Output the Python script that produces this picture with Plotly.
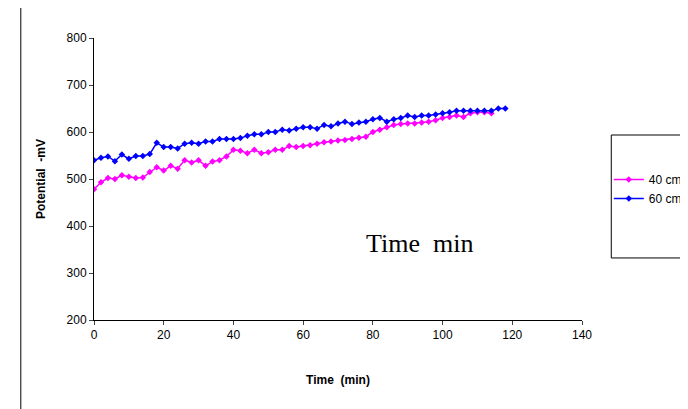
import plotly.graph_objects as go

t40 = list(range(0, 116, 2))
v40 = [478, 493, 502, 500, 508, 505, 502, 503, 515, 525, 518, 528, 522, 540, 535, 540,
       528, 537, 540, 548, 562, 560, 555, 562, 555, 557, 562, 562, 570, 568, 570, 572,
       575, 578, 580, 582, 583, 585, 588, 590, 600, 605, 610, 615, 617, 618, 618, 620,
       622, 625, 630, 632, 635, 632, 640, 642, 642, 640]
t60 = list(range(0, 120, 2))
v60 = [540, 545, 548, 538, 552, 543, 549, 549, 553, 577, 568, 568, 565, 575, 577, 575,
       580, 580, 585, 585, 585, 587, 592, 595, 595, 600, 600, 605, 603, 607, 610, 610,
       607, 615, 612, 618, 622, 617, 620, 622, 627, 630, 622, 627, 630, 635, 632, 635,
       635, 637, 640, 642, 645, 645, 645, 645, 645, 645, 650, 650]

fig = go.Figure()
fig.add_trace(go.Scatter(x=t40, y=v40, name="40 cm", mode="lines+markers",
                         line=dict(color="#ff00ff", width=1.5),
                         marker=dict(symbol="diamond", size=5, color="#ff00ff")))
fig.add_trace(go.Scatter(x=t60, y=v60, name="60 cm", mode="lines+markers",
                         line=dict(color="#0000ff", width=1.5),
                         marker=dict(symbol="diamond", size=5, color="#0000ff")))

fig.update_layout(
    width=688, height=409, plot_bgcolor="white", paper_bgcolor="white",
    margin=dict(l=86, r=114, t=30, b=97, autoexpand=False),
    font=dict(family="Arial, Liberation Sans", size=12, color="black"),
    xaxis=dict(range=[0, 140], dtick=20, showline=True, linecolor="black",
               ticks="outside", ticklen=4, showgrid=False, zeroline=False, automargin=False,
               title=dict(text="<b>Time  (min)</b>", font=dict(size=12), standoff=34)),
    yaxis=dict(range=[200, 800], dtick=100, showline=True, linecolor="black",
               ticks="outside", ticklen=4, showgrid=False, zeroline=False, automargin=False,
               title=dict(text="<b>Potential  -mV</b>", font=dict(size=12), standoff=18)),
    legend=dict(x=1.055, y=0.55, xanchor="left", yanchor="top",
                bgcolor="rgba(0,0,0,0)", font=dict(size=12), tracegroupgap=20),
    showlegend=True,
)
fig.add_shape(type="rect", xref="paper", yref="paper", x0=1.06, x1=1.3, y0=0.22, y1=0.656,
              line=dict(color="black", width=1))
fig.add_annotation(text="Time  min", x=0.668, y=0.273, xref="paper", yref="paper",
                   xanchor="center", yanchor="middle", showarrow=False,
                   font=dict(family="Liberation Serif, Times New Roman", size=26))
fig.add_shape(type="line", xref="paper", yref="paper", x0=-0.15, x1=-0.15, y0=-0.4, y1=1.15,
              line=dict(color="black", width=1))
fig.write_html("out.html")
